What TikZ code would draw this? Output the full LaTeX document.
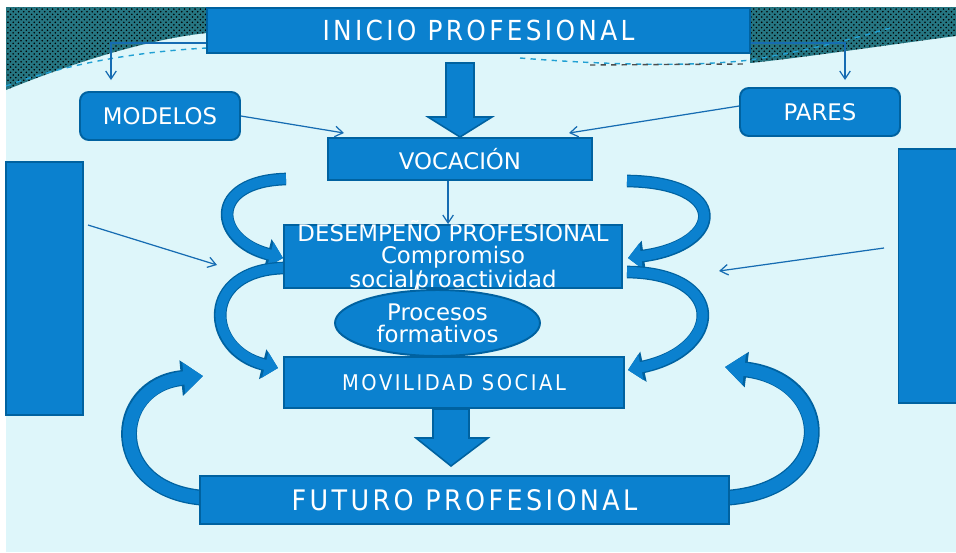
\documentclass[tikz,border=0pt]{standalone}
\usepackage{fontspec}
\setmainfont{DejaVu Sans}
\newfontfamily\titlefont{DejaVu Sans}[FakeStretch=0.9, LetterSpace=12]
\usetikzlibrary{arrows.meta, patterns, shapes.geometric}

\definecolor{boxblue}{RGB}{11,129,207}
\definecolor{boxedge}{RGB}{0,98,160}
\definecolor{bgcyan}{RGB}{222,246,250}
\definecolor{patteal}{RGB}{38,118,130}
\definecolor{linkblue}{RGB}{22,108,178}

\begin{document}
\begin{tikzpicture}[> = {Straight Barb[length = 4.5pt, width = 6pt]}, x = 0.02cm, y = -0.02cm,
	box/.style = {draw = boxedge, fill = boxblue, line width = 1.1pt, text = white, inner sep = 0pt},
	link/.style = {draw = linkblue, line width = 0.7pt},
	block arrow/.style = {draw = boxedge, fill = boxblue, line width = 0.9pt},
	curve arrow/.style = {draw = boxblue, line width = 5.8pt, -{Triangle[width = 14.5pt, length = 7.5pt]},
		preaction = {draw = boxedge, line width = 7.2pt, -{Triangle[width = 17pt, length = 9pt]}}},
	loop arrow/.style = {draw = boxblue, line width = 7.5pt, -{Triangle[width = 17pt, length = 11pt]},
		preaction = {draw = boxedge, line width = 9pt, -{Triangle[width = 19.5pt, length = 12.5pt]}}},
	plain/.style = {font = \fontsize{13pt}{12.5pt}\selectfont}]

	% Definitions

	\def\boxw{6.8cm}		% width of the two middle boxes
	\def\sidew{1.54cm}		% width of the side boxes

	% Page and background

	\useasboundingbox (0, 0) rectangle (956, 552);
	\fill [white] (0, 0) rectangle (956, 552);
	\fill [bgcyan] (6, 7) rectangle (956, 552);

	% Top decoration

	\path [fill = patteal, postaction = {pattern = crosshatch dots, pattern color = black}]
		(6, 7) -- (207, 7) -- (207, 33) .. controls (140, 40) and (60, 68) .. (6, 90) -- cycle;
	\path [fill = patteal, postaction = {pattern = crosshatch dots, pattern color = black}]
		(750, 7) -- (956, 7) -- (956, 36) .. controls (880, 46) and (800, 58) .. (750, 63) -- cycle;
	\draw [cyan!70!teal, dashed, line width = 0.8pt] (6, 86) .. controls (60, 66) and (130, 52) .. (207, 48);
	\draw [cyan!70!teal, dashed, line width = 0.8pt] (520, 58) .. controls (620, 66) and (700, 66) .. (750, 60)
		.. controls (800, 52) and (850, 40) .. (890, 28);
	\draw [black!70, dashed, line width = 0.8pt] (590, 65) -- (745, 64);

	% Curved arrows

	\draw [curve arrow] (286, 179) .. controls (208, 181) and (213, 240) .. (283, 258);
	\draw [curve arrow] (284, 268) .. controls (200, 270) and (205, 350) .. (278, 368);
	\draw [curve arrow] (627, 181) .. controls (730, 182) and (725, 245) .. (628, 258);
	\draw [curve arrow] (627, 272) .. controls (728, 273) and (723, 350) .. (628, 370);

	\draw [loop arrow] (206, 498) .. controls (105, 492) and (110, 385) .. (203, 376);
	\draw [loop arrow] (723, 498) .. controls (840, 492) and (835, 380) .. (725, 367);

	% Boxes

	\node [box, minimum width = 10.86cm, minimum height = 0.9cm,
		font = \titlefont\fontsize{15.7pt}{16pt}\selectfont] (inicio) at (478.5, 30.5) {INICIO PROFESIONAL};
	\node [box, plain, rounded corners = 5pt, minimum width = 3.2cm, minimum height = 0.96cm] (modelos) at (160, 116) {MODELOS};
	\node [box, plain, rounded corners = 5pt, minimum width = 3.2cm, minimum height = 0.96cm] (pares) at (820, 112) {PARES};
	\node [box, plain, minimum width = 5.28cm, minimum height = 0.84cm] (vocacion) at (460, 159) {VOCACIÓN};
	\node [box, minimum width = 6.76cm, minimum height = 1.26cm,
		label = {[plain, text = white, align = center, inner sep = 0pt]center:DESEMPEÑO PROFESIONAL\\Compromiso\\social\rlap{/}proactividad}]
		(desempeno) at (453, 256.5) {};
	\node [box, minimum width = \boxw, minimum height = 1.02cm,
		font = \titlefont\fontsize{12.3pt}{13pt}\selectfont] (movilidad) at (454, 382.5) {MOVILIDAD SOCIAL};
	\node [box, minimum width = 10.58cm, minimum height = 0.96cm,
		font = \titlefont\fontsize{16.1pt}{17pt}\selectfont] (futuro) at (464.5, 500) {FUTURO PROFESIONAL};
	\node [box, minimum width = \sidew, minimum height = 5.06cm] (lbox) at (44.5, 288.5) {};
	\node [box, minimum width = \sidew, minimum height = 5.08cm] (rbox) at (937, 276) {};

	\node [box, plain, ellipse, align = center, minimum width = 4.1cm, minimum height = 1.32cm] (procesos)
		at (437.5, 323) {Procesos\\formativos};

	% Block arrows

	\draw [block arrow] (446, 63) -- (474, 63) -- (474, 117) -- (492, 117) -- (460, 137) -- (428, 117) -- (446, 117) -- cycle;
	\draw [block arrow] (433, 409) -- (469, 409) -- (469, 438) -- (488, 438) -- (451, 466) -- (416, 438) -- (433, 438) -- cycle;

	% Thin arrows

	\coordinate (modelos-top) at (111, 80);
	\coordinate (pares-top) at (845, 80);
	\coordinate (voc-left) at (344, 133);
	\coordinate (voc-right) at (569, 133);
	\coordinate (lbox-out) at (88, 225);
	\coordinate (lbox-in) at (217, 265);
	\coordinate (rbox-out) at (884, 248);
	\coordinate (rbox-in) at (719, 271);

	\draw [link, ->] ([yshift = -7.1pt] inicio.west) -| (modelos-top);
	\draw [link, ->] ([yshift = -7.1pt] inicio.east) -| (pares-top);
	\draw [link, ->] (modelos.east) -- (voc-left);
	\draw [link, ->] ([yshift = 3.4pt] pares.west) -- (voc-right);
	\draw [link, ->] ([xshift = -6.8pt] vocacion.south) -- ([xshift = -6.8pt] vocacion.south |- desempeno.north);
	\draw [link, ->] (lbox-out) -- (lbox-in);
	\draw [link, ->] (rbox-out) -- (rbox-in);

\end{tikzpicture}
\end{document}
